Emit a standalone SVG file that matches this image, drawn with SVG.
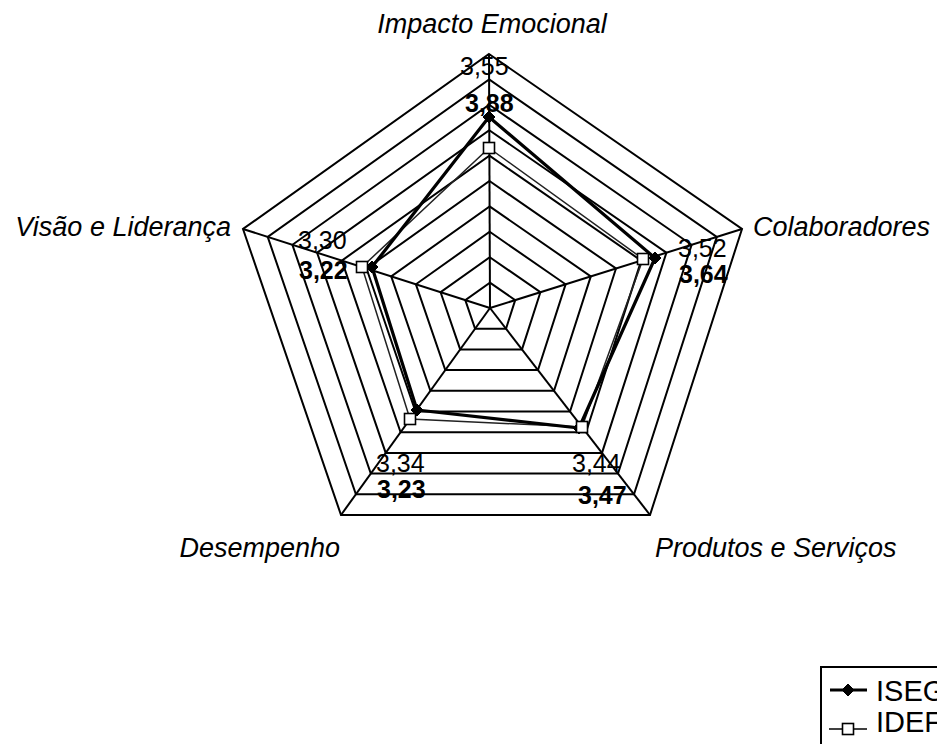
<svg xmlns="http://www.w3.org/2000/svg" width="937" height="744" viewBox="0 0 937 744">
<style>
.ring{fill:none;stroke:#000;stroke-width:2;stroke-linejoin:miter}
.spoke{stroke:#000;stroke-width:2}
.axl{font-family:"Liberation Sans",Arial,sans-serif;font-style:italic;font-size:27px;fill:#000}
.val{font-family:"Liberation Sans",Arial,sans-serif;font-size:25px;fill:#000}
.valb{font-family:"Liberation Sans",Arial,sans-serif;font-size:25px;font-weight:bold;fill:#000}
.leg{font-family:"Liberation Sans",Arial,sans-serif;font-size:29px;fill:#000}
.iseg{fill:none;stroke:#000;stroke-width:3.2;stroke-linejoin:round}
.idef{fill:none;stroke:#222;stroke-width:1.5}
.mf{fill:#000;stroke:#000;stroke-width:1}
.mo{fill:#fff;stroke:#000;stroke-width:1.6}
</style>
<defs>
<path id="dia" d="M0,-6 L6,0 L0,6 L-6,0 Z" class="mf"/>
<rect id="sq" x="-5.5" y="-5.5" width="11" height="11" class="mo"/>
</defs>
<rect width="937" height="744" fill="#fff"/>
<g id="grid">
<polygon class="ring" points="489.9,282.6 515.2,300.1 506,328.7 475.1,328.7 465.3,300.1"/>
<polygon class="ring" points="489.8,257.2 540.4,292.2 522,349.4 460.2,349.4 440.6,292.2"/>
<polygon class="ring" points="489.7,231.8 565.6,284.3 538,370.1 445.3,370.1 415.9,284.3"/>
<polygon class="ring" points="489.6,206.4 590.8,276.4 554,390.8 430.4,390.8 391.2,276.4"/>
<polygon class="ring" points="489.5,181 616,268.5 570,411.5 415.5,411.5 366.5,268.5"/>
<polygon class="ring" points="489.4,155.6 641.2,260.6 586,432.2 400.6,432.2 341.8,260.6"/>
<polygon class="ring" points="489.3,130.2 666.4,252.7 602,452.9 385.7,452.9 317.1,252.7"/>
<polygon class="ring" points="489.2,104.8 691.6,244.8 618,473.6 370.8,473.6 292.4,244.8"/>
<polygon class="ring" points="489.1,79.4 716.8,236.9 634,494.3 355.9,494.3 267.7,236.9"/>
<polygon class="ring" points="489,54 742,229 650,515 341,515 243,229"/>
<line class="spoke" x1="490" y1="308" x2="489" y2="54"/>
<line class="spoke" x1="490" y1="308" x2="742" y2="229"/>
<line class="spoke" x1="490" y1="308" x2="650" y2="515"/>
<line class="spoke" x1="490" y1="308" x2="341" y2="515"/>
<line class="spoke" x1="490" y1="308" x2="243" y2="229"/>
</g>
<g id="axis-labels">
<text class="axl" x="492" y="33" text-anchor="middle">Impacto Emocional</text>
<text class="axl" x="231" y="236" text-anchor="end">Visão e Liderança</text>
<text class="axl" x="753" y="236">Colaboradores</text>
<text class="axl" x="340" y="557" text-anchor="end">Desempenho</text>
<text class="axl" x="655" y="557">Produtos e Serviços</text>
</g>
<g id="connectors">
<polygon class="idef" points="489,148 643,259 582,427 410,419 362,267"/>
<polygon class="iseg" points="489,117 655,258 579,428 417,410 372,267"/>
</g>
<g id="series-ISEG">
<use href="#dia" x="489" y="117"/>
<use href="#dia" x="655" y="258"/>
<use href="#dia" x="579" y="428"/>
<use href="#dia" x="417" y="410"/>
<use href="#dia" x="372" y="267"/>
</g>
<g id="series-IDEF">
<use href="#sq" x="489" y="148"/>
<use href="#sq" x="643" y="259"/>
<use href="#sq" x="582" y="427"/>
<use href="#sq" x="410" y="419"/>
<use href="#sq" x="362" y="267"/>
</g>
<g id="value-labels">
<text class="val" x="460" y="75">3,55</text>
<text class="valb" x="465" y="112">3,88</text>
<text class="val" x="298" y="249">3,30</text>
<text class="valb" x="299" y="279">3,22</text>
<text class="val" x="678" y="257">3,52</text>
<text class="valb" x="679" y="283">3,64</text>
<text class="val" x="376" y="472">3,34</text>
<text class="valb" x="377" y="498">3,23</text>
<text class="val" x="572" y="472">3,44</text>
<text class="valb" x="578" y="504">3,47</text>
</g>
<g id="legend">
<rect x="821" y="667" width="200" height="120" fill="#fff" stroke="#000" stroke-width="2"/>
<line x1="830" y1="690" x2="867" y2="690" stroke="#000" stroke-width="3"/>
<use href="#dia" x="848" y="690"/>
<text class="leg" x="876" y="701">ISEG</text>
<line x1="829" y1="729" x2="867" y2="729" stroke="#000" stroke-width="1.5"/>
<use href="#sq" x="848" y="729"/>
<text class="leg" x="876" y="732">IDEF</text>
</g>
</svg>
